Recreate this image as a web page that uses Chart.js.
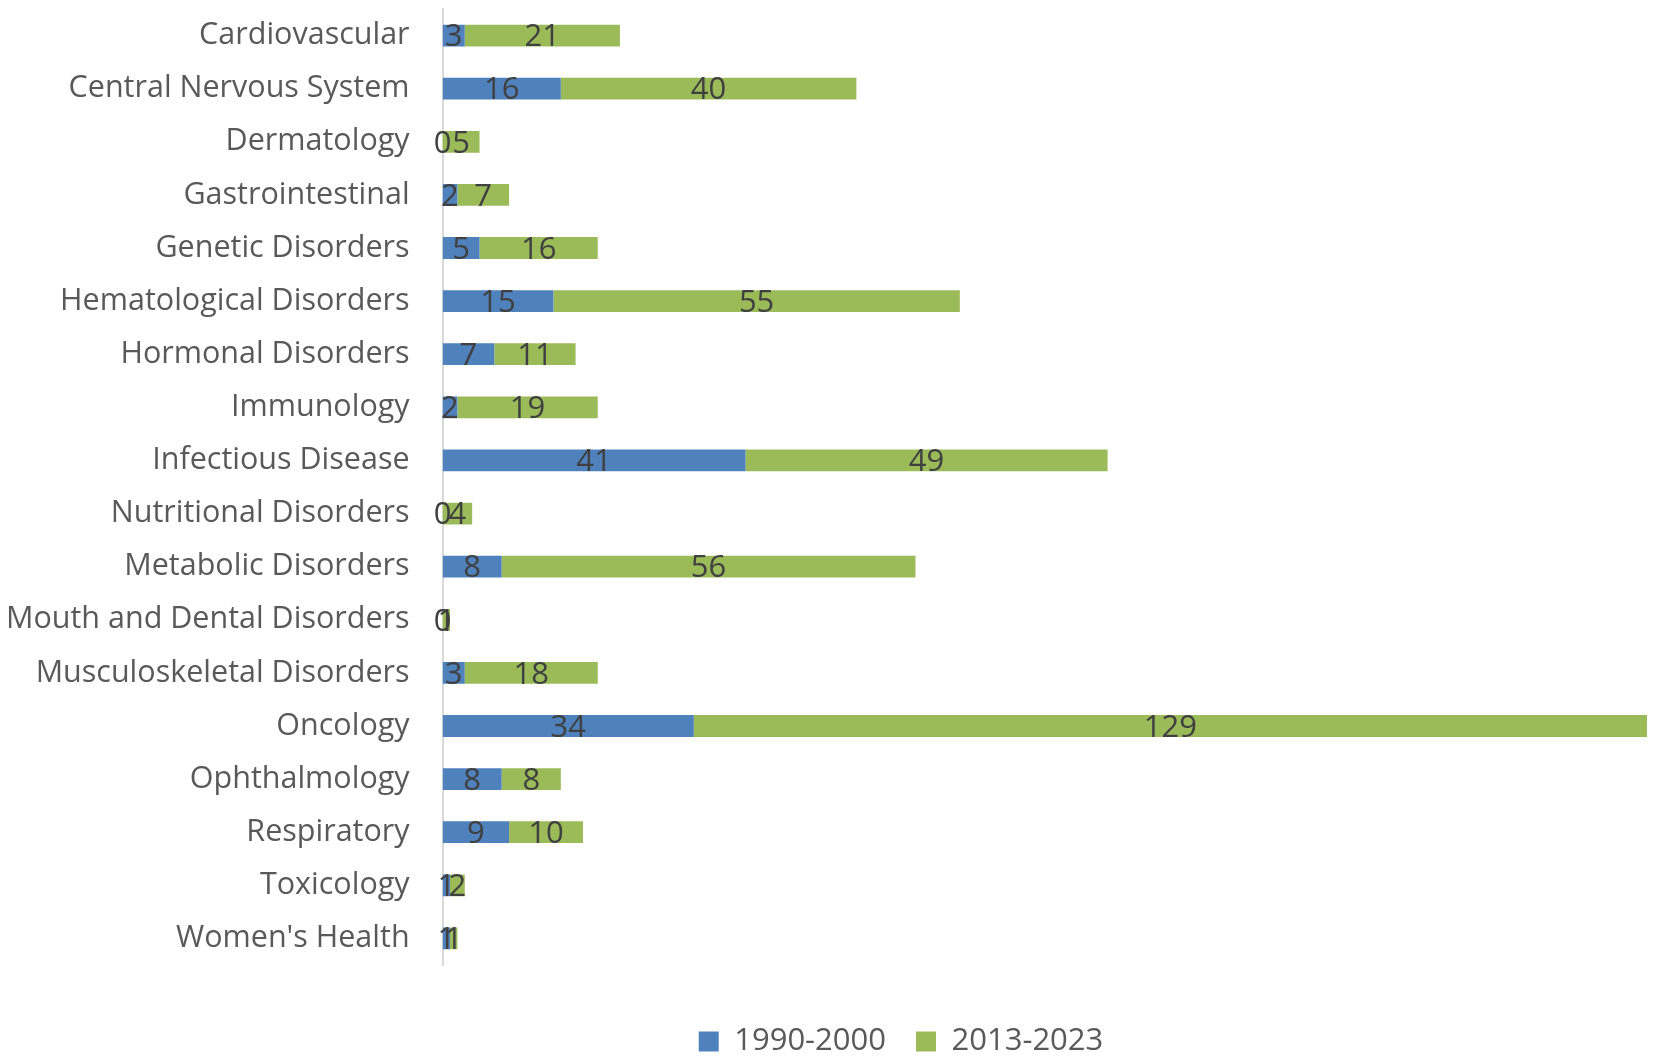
<!DOCTYPE html>
<html>
<head>
<meta charset="utf-8">
<script src="https://cdn.jsdelivr.net/npm/chart.js@4"></script>
<style>
  body { margin: 0; background: #fff; }
  #wrap { width: 1653px; height: 1060px; position: relative; }
</style>
</head>
<body>
<div id="wrap"><canvas id="chart"></canvas></div>
<script>
const categories = [
  'Cardiovascular', 'Central Nervous System', 'Dermatology', 'Gastrointestinal',
  'Genetic Disorders', 'Hematological Disorders', 'Hormonal Disorders', 'Immunology',
  'Infectious Disease', 'Nutritional Disorders', 'Metabolic Disorders',
  'Mouth and Dental Disorders', 'Musculoskeletal Disorders', 'Oncology',
  'Ophthalmology', 'Respiratory', 'Toxicology', "Women's Health"
];
const early = [3, 16, 0, 2, 5, 15, 7, 2, 41, 0, 8, 0, 3, 34, 8, 9, 1, 1];   // 1990-2000
const recent = [21, 40, 5, 7, 16, 55, 11, 19, 49, 4, 56, 1, 18, 129, 8, 10, 2, 1]; // 2013-2023
const seriesNames = ['1990-2000', '2013-2023'];
const xMax = 163;

// numbers in the middle of each segment
const segmentLabels = {
  id: 'segmentLabels',
  afterDatasetsDraw(chart) {
    const ctx = chart.ctx;
    ctx.save();
    ctx.font = '31px "Open Sans"';
    ctx.fillStyle = '#404040';
    ctx.textAlign = 'center';
    ctx.textBaseline = 'middle';
    chart.data.datasets.forEach((ds, i) => {
      chart.getDatasetMeta(i).data.forEach((bar, j) => {
        ctx.fillText(ds.data[j], (bar.x + bar.base) / 2, bar.y + 2);
      });
    });
    ctx.restore();
  }
};

// legend sits right of centre and low in the original
const shiftLegend = {
  id: 'shiftLegend',
  afterLayout(chart) {
    const lg = chart.legend;
    lg.left += 76;
    lg.right += 76;
    lg.top += 31;
    lg.bottom += 31;
  }
};

new Chart(document.getElementById('chart'), {
  type: 'bar',
  data: {
    labels: categories,
    datasets: [
      { label: seriesNames[0], data: early, backgroundColor: '#4F81BD' },
      { label: seriesNames[1], data: recent, backgroundColor: '#9BBB59' }
    ]
  },
  options: {
    indexAxis: 'y',
    responsive: true,
    maintainAspectRatio: false,
    animation: false,
    categoryPercentage: 1,
    barPercentage: 0.41,
    layout: { padding: { top: 9, right: 6, left: 3, bottom: 24 } },
    scales: {
      x: {
        stacked: true,
        display: false,
        min: 0,
        max: xMax
      },
      y: {
        stacked: true,
        grid: { display: true, drawOnChartArea: false, drawTicks: true, tickLength: 30, color: 'rgba(0,0,0,0)' },
        border: { display: true, color: '#d9d9d9', width: 2 },
        ticks: {
          color: '#595959',
          font: { family: 'Open Sans', size: 30.5 },
          padding: 3
        },
        afterFit(scale) {
          scale.paddingTop = 0;
          scale.paddingBottom = 0;
        }
      }
    },
    plugins: {
      legend: {
        position: 'bottom',
        labels: {
          color: '#595959',
          font: { family: 'Open Sans', size: 31 },
          boxWidth: 20,
          boxHeight: 20,
          padding: 30
        }
      },
      tooltip: { enabled: false }
    }
  },
  plugins: [segmentLabels, shiftLegend]
});
</script>
</body>
</html>
